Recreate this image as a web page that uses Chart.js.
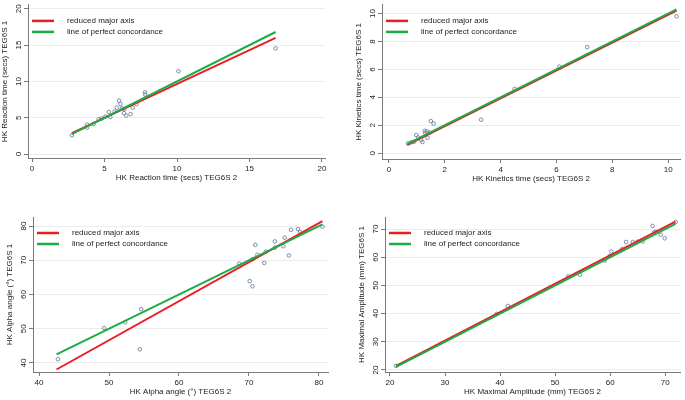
<!DOCTYPE html>
<html>
<head>
<meta charset="utf-8">
<script src="https://cdn.jsdelivr.net/npm/chart.js@4"></script>
<style>
  body { margin: 0; background: #fff; }
  .panel { position: absolute; width: 342px; height: 200px; }
</style>
</head>
<body>
<div class="panel" style="left:0;top:0"><canvas id="rtChart"></canvas></div>
<div class="panel" style="left:343px;top:0"><canvas id="ktChart"></canvas></div>
<div class="panel" style="left:0;top:200px"><canvas id="alphaChart"></canvas></div>
<div class="panel" style="left:343px;top:200px"><canvas id="maChart"></canvas></div>
<script>
// Reaction time (secs)
const rtX = [2.75, 3.8, 3.8, 4.25, 4.6, 4.8, 5.05, 5.3, 5.4, 5.7, 5.85, 6.0, 6.1, 6.2, 6.35, 6.35, 6.5, 6.8, 6.95, 7.2, 7.8, 7.8, 10.1, 16.8];
const rtY = [2.6, 4.05, 3.65, 4.15, 4.8, 4.9, 5.15, 5.8, 5.1, 5.85, 6.4, 7.35, 6.9, 6.3, 5.65, 6.2, 5.3, 5.5, 6.4, 6.9, 8.5, 8.2, 11.4, 14.55];
const rtLineX = [2.75, 16.8];
const rtRmaY = [2.9, 16.0];
const rtPcY = [2.75, 16.8];
const rtTicks = [0, 5, 10, 15, 20];

// Kinetics time (secs)
const ktX = [0.68, 0.8, 0.9, 0.98, 1.05, 1.15, 1.2, 1.28, 1.3, 1.36, 1.38, 1.45, 1.5, 1.6, 3.3, 4.5, 6.1, 7.1, 10.3];
const ktY = [0.7, 0.78, 0.82, 1.3, 1.13, 0.95, 0.8, 1.6, 1.45, 1.55, 1.1, 1.48, 2.3, 2.12, 2.4, 4.6, 6.2, 7.6, 9.8];
const ktLineX = [0.66, 10.3];
const ktRmaY = [0.6, 10.22];
const ktPcY = [0.66, 10.3];
const ktTicks = [0, 2, 4, 6, 8, 10];

// Alpha angle (°)
const alX = [42.7, 49.3, 52.3, 54.6, 54.4, 68.6, 70.1, 70.5, 70.5, 70.9, 71.2, 72.2, 72.4, 73.7, 73.7, 74.9, 75.1, 75.7, 76.0, 77.0, 77.3, 80.5];
const alY = [41.1, 50.2, 51.9, 55.7, 44.0, 69.0, 63.9, 62.4, 70.3, 74.5, 71.6, 69.2, 72.5, 75.5, 73.7, 74.1, 76.6, 71.4, 78.9, 79.1, 78.2, 79.8];
const alLineX = [42.5, 80.5];
const alRmaY = [38.1, 81.4];
const alPcY = [42.5, 80.5];
const alTicks = [40, 50, 60, 70, 80];

// Maximal amplitude (mm)
const maX = [21.1, 39.4, 41.4, 52.4, 54.5, 59.0, 59.9, 60.2, 62.2, 62.9, 64.1, 65.0, 65.9, 67.7, 68.0, 68.3, 69.2, 69.9, 71.9];
const maY = [21.5, 39.9, 42.7, 53.2, 53.8, 58.8, 60.4, 62.0, 62.9, 65.4, 65.4, 65.5, 65.6, 71.1, 68.8, 69.0, 68.0, 66.7, 72.5];
const maLineX = [21.1, 71.85];
const maRmaY = [21.5, 72.6];
const maPcY = [21.1, 71.85];
const maTicks = [20, 30, 40, 50, 60, 70];

const RED = '#ea1d25';
const GREEN = '#1dab48';
const AXIS = '#7a7a7a';
const TEXT = '#222';
const FONT = '"Liberation Sans", Arial, sans-serif';

function pts(xs, ys) {
  return xs.map((x, i) => ({ x: x, y: ys[i] }));
}

// y tick labels rotated like Stata, plus a small legend inside the plot
const stataLook = {
  id: 'stataLook',
  afterDraw(chart) {
    const ctx = chart.ctx;
    const ys = chart.scales.y;
    const area = chart.chartArea;
    ctx.save();
    ctx.fillStyle = TEXT;
    ctx.font = '8px ' + FONT;
    ctx.textAlign = 'center';
    ctx.textBaseline = 'middle';
    ys.ticks.forEach(t => {
      ctx.save();
      ctx.translate(ys.right - 9, ys.getPixelForValue(t.value));
      ctx.rotate(-Math.PI / 2);
      ctx.fillText(t.label, 0, 0);
      ctx.restore();
    });

    const items = [chart.data.datasets[1], chart.data.datasets[0]];
    ctx.textAlign = 'left';
    items.forEach((ds, i) => {
      const y = area.top + 16 + i * 11;
      ctx.strokeStyle = ds.borderColor;
      ctx.lineWidth = 2.5;
      ctx.beginPath();
      ctx.moveTo(area.left + 4, y);
      ctx.lineTo(area.left + 26, y);
      ctx.stroke();
      ctx.fillStyle = TEXT;
      ctx.fillText(ds.label, area.left + 39, y);
    });
    ctx.restore();
  }
};

function makeChart(id, c) {
  const ctx = document.getElementById(id).getContext('2d');
  return new Chart(ctx, {
    type: 'scatter',
    data: {
      datasets: [
        {
          label: 'line of perfect concordance',
          data: pts(c.lineX, c.pcY),
          showLine: true,
          borderColor: GREEN,
          borderWidth: 2,
          pointRadius: 0
        },
        {
          label: 'reduced major axis',
          data: pts(c.lineX, c.rmaY),
          showLine: true,
          borderColor: RED,
          borderWidth: 2,
          pointRadius: 0
        },
        {
          label: 'observations',
          data: pts(c.xs, c.ys),
          pointStyle: 'circle',
          pointRadius: 1.8,
          pointBorderWidth: 0.9,
          borderColor: '#6c83a2',
          backgroundColor: 'rgba(0,0,0,0)'
        }
      ]
    },
    options: {
      responsive: true,
      maintainAspectRatio: false,
      animation: false,
      layout: { padding: c.pad },
      plugins: {
        legend: { display: false },
        tooltip: { enabled: false }
      },
      scales: {
        x: {
          type: 'linear',
          min: c.xMin,
          max: c.xMax,
          afterBuildTicks: s => { s.ticks = c.xTicks.map(v => ({ value: v })); },
          afterFit: s => { s.height = 28; },
          border: { color: AXIS, width: 1 },
          grid: { drawOnChartArea: false, tickLength: 4, tickColor: AXIS },
          ticks: { color: TEXT, font: { size: 8, family: FONT }, padding: 2, maxRotation: 0 },
          title: {
            display: true,
            text: c.xTitle,
            color: TEXT,
            font: { size: 8, family: FONT },
            padding: { top: 0, bottom: 3 }
          }
        },
        y: {
          type: 'linear',
          min: c.yMin,
          max: c.yMax,
          afterBuildTicks: s => { s.ticks = c.yTicks.map(v => ({ value: v })); },
          afterFit: s => { s.width = 28; },
          border: { color: AXIS, width: 1 },
          grid: { color: '#ececec', tickLength: 4, tickColor: AXIS },
          ticks: { display: false },
          title: {
            display: true,
            text: c.yTitle,
            color: TEXT,
            font: { size: 8, family: FONT },
            padding: 0
          }
        }
      }
    },
    plugins: [stataLook]
  });
}

makeChart('rtChart', {
  xs: rtX, ys: rtY, lineX: rtLineX, rmaY: rtRmaY, pcY: rtPcY,
  xTicks: rtTicks, yTicks: rtTicks,
  xMin: -0.276, xMax: 20.207, yMin: -0.53, yMax: 20.53,
  pad: { left: 0, right: 17, top: 0, bottom: 14 },
  xTitle: 'HK Reaction time (secs) TEG6S 2',
  yTitle: 'HK Reaction time (secs) TEG6S 1'
});

makeChart('ktChart', {
  xs: ktX, ys: ktY, lineX: ktLineX, rmaY: ktRmaY, pcY: ktPcY,
  xTicks: ktTicks, yTicks: ktTicks,
  xMin: -0.249, xMax: 10.427, yMin: -0.417, yMax: 10.625,
  pad: { left: 11, right: 3, top: 0, bottom: 13 },
  xTitle: 'HK Kinetics time (secs) TEG6S 2',
  yTitle: 'HK Kinetics time (secs) TEG6S 1'
});

makeChart('alphaChart', {
  xs: alX, ys: alY, lineX: alLineX, rmaY: alRmaY, pcY: alPcY,
  xTicks: alTicks, yTicks: alTicks,
  xMin: 39.14, xMax: 81.29, yMin: 37.37, yMax: 82.63,
  pad: { left: 5, right: 14, top: 17, bottom: 0 },
  xTitle: 'HK Alpha angle (°) TEG6S 2',
  yTitle: 'HK Alpha angle (°) TEG6S 1'
});

makeChart('maChart', {
  xs: maX, ys: maY, lineX: maLineX, rmaY: maRmaY, pcY: maPcY,
  xTicks: maTicks, yTicks: maTicks,
  xMin: 19.1, xMax: 72.7, yMin: 19.29, yMax: 74.26,
  pad: { left: 14, right: 2, top: 17, bottom: 0 },
  xTitle: 'HK Maximal Amplitude (mm) TEG6S 2',
  yTitle: 'HK Maximal Amplitude (mm) TEG6S 1'
});
</script>
</body>
</html>
